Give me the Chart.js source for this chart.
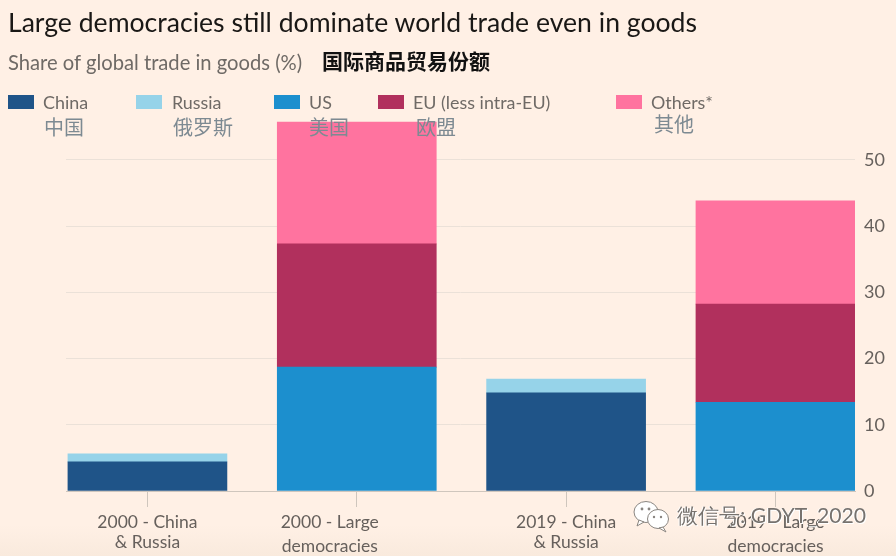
<!DOCTYPE html>
<html>
<head>
<meta charset="utf-8">
<script src="https://cdn.jsdelivr.net/npm/chart.js@4"></script>
<style>
  html, body { margin: 0; padding: 0; background: #fff1e5; }
  #wrap { position: relative; width: 896px; height: 556px; overflow: hidden; background: linear-gradient(#fff0e5 0, #fff0e5 525px, #f9eadd 556px); font-family: Lato, sans-serif; }
  #wrap canvas { position: absolute; left: 0; top: 0; }
  .txt { position: absolute; white-space: nowrap; line-height: 1; z-index: 2; }
  .cn { font-family: "Noto Sans CJK SC", sans-serif; }
  #mark { text-shadow: 1px 1px 0 #fff, -1px 0 0 #fff; }
  #icon { position: absolute; left: 632px; top: 498px; z-index: 3; }
</style>
</head>
<body>
<div id="wrap">
  <canvas id="chart" width="896" height="556"></canvas>
  <div class="txt" style="left:8px;top:9px;font-size:26.6px;color:#1a1816">Large democracies still dominate world trade even in goods</div>
  <div class="txt" style="left:8px;top:52px;font-size:20.2px;color:#6f6a66">Share of global trade in goods (%)</div>
  <div class="txt cn" style="left:322px;top:50px;font-size:21px;font-weight:700;color:#111">国际商品贸易份额</div>
  <div id="legend"></div>
  <svg id="icon" width="40" height="36" viewBox="0 0 40 36">
    <ellipse cx="14" cy="14" rx="12" ry="10.5" fill="#fff" stroke="#8a8580" stroke-width="1"/>
    <path d="M7 22 L5 28 L12 24 Z" fill="#fff" stroke="#8a8580" stroke-width="1"/>
    <ellipse cx="26" cy="21" rx="10.5" ry="9.5" fill="#fff" stroke="#8a8580" stroke-width="1"/>
    <path d="M31 29 L34 34 L27 30 Z" fill="#fff" stroke="#8a8580" stroke-width="1"/>
    <circle cx="10" cy="11" r="1.4" fill="#8a8580"/><circle cx="17" cy="11" r="1.4" fill="#8a8580"/>
    <circle cx="22" cy="19" r="1.2" fill="#8a8580"/><circle cx="29" cy="19" r="1.2" fill="#8a8580"/>
  </svg>
  <div id="mark" class="txt" style="left:677px;top:505px;font-size:21.2px;color:#77726e;z-index:3">微信号: GDYT_2020</div>
</div>
<script>
// данные
const categories = ['2000 - China\n& Russia', '2000 - Large\ndemocracies', '2019 - China\n& Russia', '2019 - Large\ndemocracies'];
const labelShift = [0, -27, 0, 0];
const china = [4.4, null, 14.8, null];
const russia = [1.2, null, 2.1, null];
const us = [null, 18.7, null, 13.4];
const eu = [null, 18.6, null, 14.8];
const others = [null, 18.4, null, 15.6];
const yTicks = [0, 10, 20, 30, 40, 50];

const seriesNames = ['China', 'Russia', 'US', 'EU (less intra-EU)', 'Others*'];
const seriesNamesCn = ['中国', '俄罗斯', '美国', '欧盟', '其他'];
const seriesColors = ['#1f5488', '#96d3e9', '#1c8fce', '#b1305d', '#ff739f'];
const seriesValues = [china, russia, us, eu, others];

// легенда
const legendX = [8, 136, 274, 378, 616];
const legendTextX = [43, 172, 309, 413, 651];
const legendCnX = [44, 173, 309, 416, 654];
const legendCnY = [117, 117, 117, 117, 114];
let legendHtml = '';
seriesNames.forEach(function (name, i) {
    legendHtml += '<div class="txt" style="left:' + legendX[i] + 'px;top:95px;width:26px;height:14px;background:' + seriesColors[i] + '"></div>';
    legendHtml += '<div class="txt" style="left:' + legendTextX[i] + 'px;top:94px;font-size:17.9px;color:#6f6a66">' + name + '</div>';
    legendHtml += '<div class="txt cn" style="left:' + legendCnX[i] + 'px;top:' + legendCnY[i] + 'px;font-size:20px;color:#7d8a92">' + seriesNamesCn[i] + '</div>';
});
document.getElementById('legend').innerHTML = legendHtml;

// подписи оси X рисуем сами, у второй колонки подпись смещена
const xLabels = {
    id: 'xLabels',
    afterDraw(chart) {
        const ctx = chart.ctx;
        const x = chart.scales.x;
        ctx.save();
        ctx.font = '17.5px Lato, sans-serif';
        ctx.fillStyle = '#66605c';
        ctx.textAlign = 'center';
        ctx.textBaseline = 'middle';
        categories.forEach(function (label, i) {
            const parts = label.split('\n');
            const px = x.getPixelForValue(i) + labelShift[i];
            const second = parts[1] === 'democracies' ? 546 : 542;
            ctx.fillText(parts[0], px, 522);
            ctx.fillText(parts[1], px, second);
        });
        ctx.restore();
    }
};

const datasets = seriesNames.map(function (name, i) {
    return {
        label: name,
        data: seriesValues[i].map(function (v, k) { return { x: k, y: v }; }),
        backgroundColor: seriesColors[i],
        borderWidth: 0,
        barThickness: 159
    };
});

new Chart(document.getElementById('chart').getContext('2d'), {
    type: 'bar',
    data: { datasets: datasets },
    plugins: [xLabels],
    options: {
        responsive: false,
        animation: false,
        layout: { padding: { left: 66, top: 120 } },
        plugins: {
            legend: { display: false },
            tooltip: { enabled: false }
        },
        scales: {
            x: {
                type: 'linear',
                stacked: true,
                offset: false,
                min: -0.389,
                max: 3.38,
                afterBuildTicks(axis) { axis.ticks = categories.map(function (c, i) { return { value: i }; }); },
                afterFit(axis) { axis.height = 65; axis.paddingLeft = 0; axis.paddingRight = 0; },
                ticks: { display: false },
                grid: { offset: false, drawOnChartArea: false, color: '#cfc6bd', tickLength: 16 },
                border: { color: '#cfc6bd' }
            },
            y: {
                position: 'right',
                stacked: true,
                min: 0,
                max: 56,
                afterBuildTicks(axis) { axis.ticks = yTicks.map(function (v) { return { value: v }; }); },
                afterFit(axis) { axis.width = 41; },
                ticks: { color: '#66605c', font: { family: 'Lato, sans-serif', size: 18 }, padding: 9 },
                grid: { color: '#ebe1d8', drawTicks: false },
                border: { display: false }
            }
        }
    }
});
</script>
</body>
</html>
